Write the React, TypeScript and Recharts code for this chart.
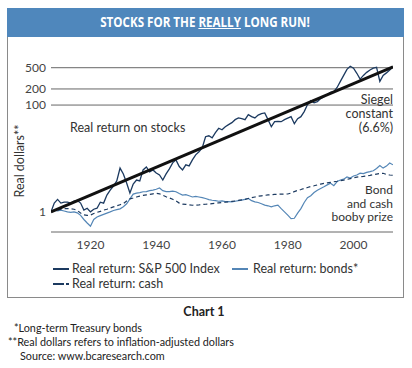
import React from 'react';
import { LineChart, Line, XAxis, YAxis, ReferenceLine } from 'recharts';

const years = [
  1908, 1909, 1910, 1911, 1912, 1913, 1914, 1915, 1916, 1917,
  1918, 1919, 1920, 1921, 1922, 1923, 1924, 1925, 1926, 1927,
  1928, 1929, 1930, 1931, 1932, 1933, 1934, 1935, 1936, 1937,
  1938, 1939, 1940, 1941, 1942, 1943, 1944, 1945, 1946, 1947,
  1948, 1949, 1950, 1951, 1952, 1953, 1954, 1955, 1956, 1957,
  1958, 1959, 1960, 1961, 1962, 1963, 1964, 1965, 1966, 1967,
  1968, 1969, 1970, 1971, 1972, 1973, 1974, 1975, 1976, 1977,
  1978, 1979, 1980, 1981, 1982, 1983, 1984, 1985, 1986, 1987,
  1988, 1989, 1990, 1991, 1992, 1993, 1994, 1995, 1996, 1997,
  1998, 1999, 2000, 2001, 2002, 2003, 2004, 2005, 2006, 2007,
  2008, 2009, 2010, 2011, 2012,
];

const stocks = [
  1.0, 1.46, 1.71, 1.46, 1.52, 1.52, 1.46, 1.59, 1.63, 1.46,
  1.08, 1.17, 1.0, 1.12, 1.17, 1.52, 1.46, 2.06, 2.56, 3.05,
  3.79, 6.6, 5.13, 3.47, 2.25, 3.32, 3.95, 3.79, 6.1, 6.95,
  5.6, 6.1, 5.35, 4.91, 3.95, 5.13, 6.37, 8.27, 9.41, 7.05,
  6.1, 7.6, 7.25, 9.41, 11.7, 13.3, 15.9, 25.5, 26.6, 24.4,
  30.4, 36.8, 34.5, 39.4, 42.9, 46.9, 53.3, 57.4, 55.5, 53.3,
  66.2, 60.6, 57.4, 64.9, 69.2, 71.3, 53.3, 39.4, 48.8, 49.4,
  48.8, 53.3, 56.9, 60.6, 44.8, 55.5, 60.6, 75.5, 102, 121,
  110, 116, 132, 144, 158, 172, 179, 213, 277, 359,
  466, 532, 490, 393, 305, 359, 409, 454, 490, 509,
  277, 359, 400, 454, 521,
];

const bonds = [
  1.0, 1.08, 1.04, 1.08, 1.04, 1.0, 0.98, 1.0, 0.96, 0.86,
  0.72, 0.62, 0.54, 0.72, 0.8, 0.85, 0.9, 0.95, 1.0, 1.06,
  1.1, 1.14, 1.25, 1.42, 1.75, 2.15, 2.25, 2.3, 2.38, 2.4,
  2.5, 2.56, 2.65, 2.8, 2.5, 2.4, 2.4, 2.45, 2.38, 2.2,
  2.06, 2.1, 2.0, 1.9, 1.95, 1.9, 1.85, 1.78, 1.7, 1.65,
  1.62, 1.58, 1.6, 1.55, 1.56, 1.54, 1.58, 1.62, 1.66, 1.72,
  1.78, 1.62, 1.54, 1.5, 1.42, 1.34, 1.3, 1.24, 1.3, 1.34,
  1.15, 1.0, 0.87, 0.75, 0.76, 0.95, 1.15, 1.5, 1.85, 2.0,
  2.3, 2.55, 2.75, 2.95, 3.2, 3.45, 3.1, 3.7, 3.95, 4.1,
  4.5, 4.3, 4.7, 4.9, 5.3, 5.2, 5.5, 5.66, 5.9, 6.5,
  7.4, 6.6, 7.2, 8.2, 7.6,
];

const cash = [
  1.0, 1.05, 1.08, 1.12, 1.15, 1.15, 1.14, 1.12, 1.06, 0.95,
  0.88, 0.86, 0.87, 0.93, 0.98, 1.02, 1.08, 1.12, 1.18, 1.24,
  1.3, 1.36, 1.42, 1.6, 1.75, 1.82, 1.9, 1.97, 2.03, 2.08,
  2.12, 2.18, 2.22, 2.18, 2.04, 1.92, 1.82, 1.72, 1.6, 1.46,
  1.4, 1.38, 1.36, 1.33, 1.34, 1.35, 1.37, 1.39, 1.4, 1.43,
  1.45, 1.48, 1.5, 1.52, 1.54, 1.57, 1.6, 1.64, 1.68, 1.72,
  1.78, 1.84, 1.9, 1.96, 2.0, 2.04, 2.08, 2.1, 2.12, 2.14,
  2.15, 2.16, 2.16, 2.25, 2.4, 2.52, 2.62, 2.74, 2.86, 2.98,
  3.08, 3.2, 3.32, 3.42, 3.5, 3.58, 3.66, 3.74, 3.84, 3.94,
  4.06, 4.2, 4.34, 4.48, 4.56, 4.62, 4.7, 4.82, 4.96, 5.1,
  5.25, 5.28, 5.0, 4.9, 4.85,
];

const siegelYears = [1908, 2012];
const siegelValues = [1, 520];

const xTicks = [1920, 1940, 1960, 1980, 2000];
const yTicks = [1, 100, 200, 500];
const gridValues = [100, 200, 500];

const STOCK = '#1c3a60';
const BOND = '#5486b6';
const FONT = 'Lato, "Open Sans", sans-serif';

const data = years.map((year, i) => {
  const si = siegelYears.indexOf(year);
  return {
    year,
    stocks: stocks[i],
    bonds: bonds[i],
    cash: cash[i],
    siegel: si >= 0 ? siegelValues[si] : null,
  };
});

const abs = (left: number, top: number, extra: React.CSSProperties = {}): React.CSSProperties => ({
  position: 'absolute',
  left,
  top,
  fontFamily: FONT,
  color: '#333',
  whiteSpace: 'nowrap',
  ...extra,
});

export default function App() {
  return (
    <div style={{ position: 'absolute', left: 0, top: 0, width: 412, height: 368, background: '#fff', overflow: 'hidden' }}>
      {/* frame */}
      <div style={{ position: 'absolute', left: 7, top: 8, width: 397, height: 290, border: '1px solid #8a8a8a', boxSizing: 'border-box' }} />
      <div style={{ position: 'absolute', left: 7, top: 8, width: 397, height: 29, background: '#4f87bc' }} />
      <div style={{ position: 'absolute', left: 0, top: 12, width: 410, textAlign: 'center' }}>
        <span style={{
          display: 'inline-block',
          fontFamily: '"Open Sans", sans-serif',
          fontWeight: 700,
          fontSize: 14.5,
          lineHeight: '20px',
          color: '#fff',
          whiteSpace: 'nowrap',
          transform: 'scaleX(0.8)',
          transformOrigin: 'center',
        }}>
          STOCKS FOR THE <u>REALLY</u> LONG RUN!
        </span>
      </div>

      <div style={{ position: 'absolute', left: 0, top: 0 }}>
        <LineChart width={412} height={300} data={data} margin={{ top: 58, right: 19, bottom: 0, left: 0 }}>
          <XAxis
            dataKey="year"
            type="number"
            domain={[1908, 2012]}
            ticks={xTicks}
            interval={0}
            allowDataOverflow
            height={68}
            tickLine={false}
            tickSize={0}
            tickMargin={8}
            axisLine={{ stroke: '#666', strokeWidth: 1 }}
            tick={{ fill: '#444', fontSize: 12, fontFamily: FONT }}
          />
          <YAxis
            scale="log"
            domain={[0.42, 760]}
            ticks={yTicks}
            interval={0}
            allowDataOverflow
            width={51}
            axisLine={false}
            tickLine={false}
            tickSize={0}
            tickMargin={5}
            tick={{ fill: '#444', fontSize: 12, fontFamily: FONT }}
          />
          {gridValues.map((v) => (
            <ReferenceLine key={v} y={v} stroke="#666" strokeWidth={1} />
          ))}
          <Line dataKey="bonds" stroke={BOND} strokeWidth={1.2} dot={false} isAnimationActive={false} type="linear" />
          <Line dataKey="cash" stroke={STOCK} strokeWidth={1.2} strokeDasharray="4 3" dot={false} isAnimationActive={false} type="linear" />
          <Line dataKey="stocks" stroke={STOCK} strokeWidth={1.3} dot={false} isAnimationActive={false} type="linear" />
          <Line dataKey="siegel" stroke="#111" strokeWidth={3} dot={false} connectNulls isAnimationActive={false} type="linear" />
        </LineChart>
      </div>

      {/* annotations */}
      <div style={abs(19, 161, { transform: 'translate(-50%, -50%) rotate(-90deg)', fontSize: 12.5 })}>Real dollars**</div>
      <div style={abs(70, 120, { fontSize: 12.5 })}>Real return on stocks</div>
      <div style={abs(393, 93, { fontSize: 12.5, lineHeight: '14px', textAlign: 'right', transform: 'translateX(-100%)' })}>
        Siegel<br />constant<br />(6.6%)
      </div>
      <div style={abs(393, 183, { fontSize: 12, lineHeight: '13.5px', textAlign: 'right', transform: 'translateX(-100%)' })}>
        Bond<br />and cash<br />booby prize
      </div>

      {/* legend */}
      <svg style={{ position: 'absolute', left: 0, top: 260 }} width={412} height={32}>
        <line x1={53} x2={69} y1={9} y2={9} stroke={STOCK} strokeWidth={2} />
        <line x1={232} x2={248} y1={9} y2={9} stroke={BOND} strokeWidth={2} />
        <line x1={53} x2={69} y1={24} y2={24} stroke={STOCK} strokeWidth={2} strokeDasharray="11 2 3 2" />
      </svg>
      <div style={abs(72, 261, { fontSize: 12.5 })}>Real return: S&amp;P 500 Index</div>
      <div style={abs(253, 261, { fontSize: 12.5 })}>Real return: bonds*</div>
      <div style={abs(72, 276, { fontSize: 12.5 })}>Real return: cash</div>

      {/* footer */}
      <div style={abs(0, 304, { width: 408, textAlign: 'center', fontSize: 12.5, fontWeight: 700, color: '#222' })}>Chart 1</div>
      <div style={abs(14, 321, { fontSize: 10.8, color: '#222' })}>*Long-term Treasury bonds</div>
      <div style={abs(8, 335, { fontSize: 10.8, color: '#222' })}>**Real dollars refers to inflation-adjusted dollars</div>
      <div style={abs(20, 349, { fontSize: 10.8, color: '#222' })}>Source: www.bcaresearch.com</div>
    </div>
  );
}
